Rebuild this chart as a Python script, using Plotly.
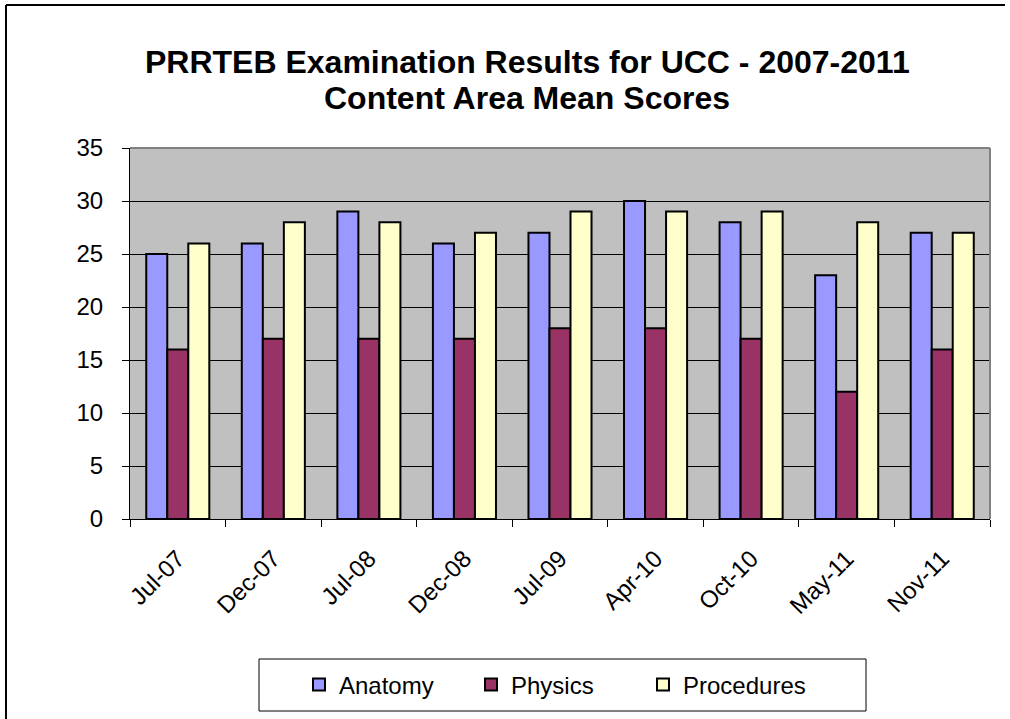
import plotly.graph_objects as go

categories = ["Jul-07", "Dec-07", "Jul-08", "Dec-08", "Jul-09", "Apr-10", "Oct-10", "May-11", "Nov-11"]
anatomy = [25, 26, 29, 26, 27, 30, 28, 23, 27]
physics = [16, 17, 17, 17, 18, 18, 17, 12, 16]
procedures = [26, 28, 28, 27, 29, 29, 29, 28, 27]
series_names = ["Anatomy", "Physics", "Procedures"]
series_colors = ["#9999FF", "#993366", "#FFFFCC"]
y_ticks = [0, 5, 10, 15, 20, 25, 30, 35]

W, H = 1010, 719
L, R, T, B = 130, 20, 148, 200
pw, ph = W - L - R, H - T - B


def px(x):
    return (x - L) / pw


def py(y):
    return (H - B - y) / ph


FONT = "Arial, Liberation Sans, sans-serif"
SMALL = 24

fig = go.Figure()
for name, vals, col in zip(series_names, [anatomy, physics, procedures], series_colors):
    fig.add_trace(go.Bar(
        x=categories, y=vals, name=name,
        marker=dict(color=col, line=dict(color="black", width=2)),
    ))

fig.update_layout(
    width=W, height=H,
    margin=dict(l=L, r=R, t=T, b=B),
    paper_bgcolor="white",
    plot_bgcolor="#C0C0C0",
    barmode="group",
    bargap=0.34,
    bargroupgap=0,
    font=dict(family=FONT, color="black", size=SMALL),
    showlegend=True,
    legend=dict(
        orientation="h",
        x=px(557), y=py(685), xanchor="center", yanchor="middle",
        bgcolor="rgba(0,0,0,0)",
        font=dict(family=FONT, size=SMALL, color="black"),
        entrywidth=127,
        itemsizing="constant",
    ),
)

fig.update_xaxes(
    type="category",
    showline=True, linecolor="black", linewidth=1,
    ticks="outside", tickson="boundaries", ticklen=7, tickcolor="black",
    tickangle=-45,
    ticklabelstandoff=15,
    tickfont=dict(family=FONT, size=SMALL, color="black"),
    showgrid=False,
)
fig.update_yaxes(
    range=[0, 35], tickvals=y_ticks,
    showline=True, linecolor="black", linewidth=1,
    ticks="outside", ticklen=7, tickcolor="black",
    ticklabelstandoff=14,
    tickfont=dict(family=FONT, size=SMALL, color="black"),
    showgrid=True, gridcolor="black", gridwidth=1,
    zeroline=False,
)

# Titles
fig.add_annotation(text="<b>PRRTEB Examination Results for UCC - 2007-2011</b>",
                   xref="paper", yref="paper", x=px(527.5), y=py(62),
                   xanchor="center", yanchor="middle", showarrow=False,
                   font=dict(family=FONT, size=32, color="black"))
fig.add_annotation(text="<b>Content Area Mean Scores</b>",
                   xref="paper", yref="paper", x=px(526.5), y=py(98),
                   xanchor="center", yanchor="middle", showarrow=False,
                   font=dict(family=FONT, size=32, color="black"))

# Plot area top/right border (gray)
fig.add_shape(type="line", xref="paper", yref="paper", x0=0, x1=1, y0=1, y1=1,
              line=dict(color="#808080", width=2), layer="above")
fig.add_shape(type="line", xref="paper", yref="paper", x0=1, x1=1, y0=0, y1=1,
              line=dict(color="#808080", width=2), layer="above")

# Legend box
fig.add_shape(type="rect", xref="paper", yref="paper",
              x0=px(259), x1=px(866), y0=py(711), y1=py(659),
              line=dict(color="black", width=1), fillcolor="rgba(0,0,0,0)")

# Chart outer border (top and left)
fig.add_shape(type="line", xref="paper", yref="paper",
              x0=px(6), x1=px(1005), y0=py(5), y1=py(5),
              line=dict(color="black", width=2))
fig.add_shape(type="line", xref="paper", yref="paper",
              x0=px(6), x1=px(6), y0=py(5), y1=py(719),
              line=dict(color="black", width=2))

fig.write_html("out.html", config={"displayModeBar": False},
               post_script="document.body.style.margin='0px';document.body.style.overflow='hidden';")
